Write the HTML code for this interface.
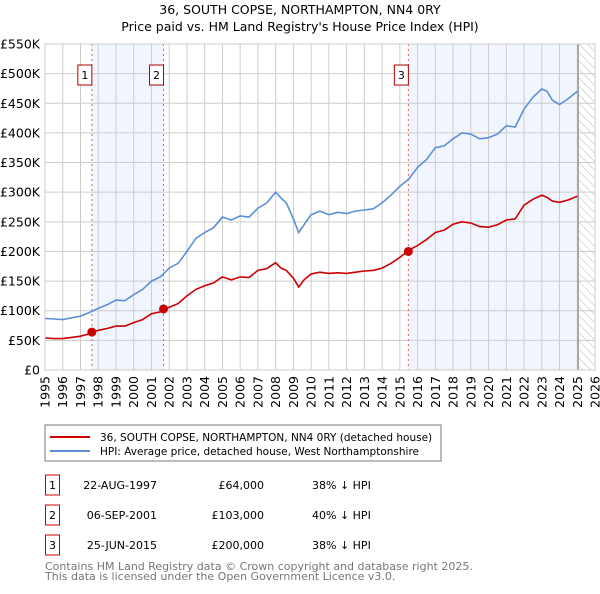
<!DOCTYPE html>
<html><head><meta charset="utf-8"><style>
body{margin:0;background:#fff;font-family:"DejaVu Sans","Liberation Sans",sans-serif;}
</style></head><body>
<svg id="c" width="600" height="590" xmlns="http://www.w3.org/2000/svg" font-family="DejaVu Sans, Liberation Sans, sans-serif">
<text x="300" y="14" text-anchor="middle" font-size="12.5">36, SOUTH COPSE, NORTHAMPTON, NN4 0RY</text>
<text x="300" y="31" text-anchor="middle" font-size="12.5">Price paid vs. HM Land Registry's House Price Index (HPI)</text>
<defs><pattern id="hatch" width="6" height="6" patternUnits="userSpaceOnUse" patternTransform="rotate(-45)"><line x1="0" y1="0" x2="0" y2="6" stroke="#bbb" stroke-width="1"/></pattern></defs>
<g id="plot"></g>
<rect x="45" y="425" width="396" height="36" fill="#fff" stroke="#777"/>
<line x1="50" y1="437" x2="90" y2="437" stroke="#cc0000" stroke-width="2"/>
<text x="100" y="441" font-size="10.5">36, SOUTH COPSE, NORTHAMPTON, NN4 0RY (detached house)</text>
<line x1="50" y1="451" x2="90" y2="451" stroke="#5b8fd6" stroke-width="2"/>
<text x="100" y="455" font-size="10.5">HPI: Average price, detached house, West Northamptonshire</text>
<g font-size="11" id="tbl"></g>
<text x="45" y="570" font-size="11" fill="#777">Contains HM Land Registry data © Crown copyright and database right 2025.</text>
<text x="45" y="580" font-size="11" fill="#777">This data is licensed under the Open Government Licence v3.0.</text>
</svg>
<script>
const years=[1995,1995.5,1996,1996.5,1997,1997.5,1998,1998.5,1999,1999.5,2000,2000.5,2001,2001.5,2002,2002.5,2003,2003.5,2004,2004.5,2005,2005.5,2006,2006.5,2007,2007.5,2008,2008.3,2008.6,2009,2009.3,2009.6,2010,2010.5,2011,2011.5,2012,2012.5,2013,2013.5,2014,2014.5,2015,2015.5,2016,2016.5,2017,2017.5,2018,2018.5,2019,2019.5,2020,2020.5,2021,2021.5,2022,2022.5,2023,2023.3,2023.6,2024,2024.5,2025];
const hpi=[87,86,85,88,91,97,104,110,118,117,127,136,150,157,172,180,200,222,232,240,258,253,260,258,273,282,300,290,282,255,232,245,262,268,262,266,264,268,270,272,282,295,310,322,342,355,375,378,390,400,398,390,392,398,412,410,440,460,474,470,455,448,458,470];
const price=[54,53,53,55,57,61,67,70,74,74,80,85,95,98,106,112,125,136,142,147,157,152,157,156,168,171,181,172,168,155,140,152,162,165,163,164,163,165,167,168,172,180,190,202,210,220,232,236,246,250,248,242,241,245,253,255,278,288,295,291,285,283,287,293];
const sales=[[1997.64,64],[2001.68,103],[2015.48,200]];
const saleLabels=["1","2","3"];
const saleDates=["22-AUG-1997","06-SEP-2001","25-JUN-2015"];
const salePrices=["£64,000","£103,000","£200,000"];
const saleDiffs=["38% ↓ HPI","40% ↓ HPI","38% ↓ HPI"];
const yTicks=[0,50,100,150,200,250,300,350,400,450,500,550];
const yTickLabels=["£0","£50K","£100K","£150K","£200K","£250K","£300K","£350K","£400K","£450K","£500K","£550K"];
const xTicks=[1995,1996,1997,1998,1999,2000,2001,2002,2003,2004,2005,2006,2007,2008,2009,2010,2011,2012,2013,2014,2015,2016,2017,2018,2019,2020,2021,2022,2023,2024,2025,2026];
const dataEnd=2025.05;
const X0=45,X1=595,Y0=370,Y1=44;
const xs=v=>X0+(v-1995)/(2026-1995)*(X1-X0);
const ys=v=>Y0-v/550*(Y0-Y1);
const NS="http://www.w3.org/2000/svg";
const plot=document.getElementById('plot');
function mk(t,a,p){const e=document.createElementNS(NS,t);for(const k in a)e.setAttribute(k,a[k]);(p||plot).appendChild(e);return e;}
let e;
e=mk('rect',{x:xs(sales[0][0]),y:Y1,width:xs(sales[1][0])-xs(sales[0][0]),height:Y0-Y1,fill:'#eef3fc',opacity:0.8});


e=mk('rect',{x:xs(sales[2][0]),y:Y1,width:xs(dataEnd)-xs(sales[2][0]),height:Y0-Y1,fill:'#eef3fc',opacity:0.8});


e=mk('rect',{x:xs(dataEnd),y:Y1,width:X1-xs(dataEnd),height:Y0-Y1,fill:'url(#hatch)'});


xTicks.forEach(t=>{
 e=mk('line',{x1:xs(t),x2:xs(t),y1:Y1,y2:Y0,stroke:'#ccc'});
 
 
 e=mk('text',{x:0,y:0,'font-size':12.5,'text-anchor':'end',transform:`translate(${xs(t)+4.5},${Y0+6}) rotate(-90)`});
 e.textContent=t;
 
 
});
yTicks.forEach((t,i)=>{
 e=mk('line',{x1:X0,x2:X1,y1:ys(t),y2:ys(t),stroke:'#ccc'});
 
 
 e=mk('text',{x:40,y:ys(t)+4.5,'font-size':12.5,'text-anchor':'end'});
 e.textContent=yTickLabels[i];
 
 
});
e=mk('line',{x1:xs(dataEnd),x2:xs(dataEnd),y1:Y1,y2:Y0,stroke:'#999','stroke-width':1.5});


sales.forEach((s,i)=>{
 e=mk('line',{x1:xs(s[0]),x2:xs(s[0]),y1:Y1,y2:Y0,stroke:'#e06060','stroke-dasharray':'2,3'});
 
 
 e=mk('rect',{x:xs(s[0])-14,y:65,width:14,height:20,fill:'#fff',stroke:'#b00000'});
 
 
 e=mk('text',{x:xs(s[0])-7,y:79,'font-size':11,'text-anchor':'middle'});
 e.textContent=saleLabels[i];
 
 
});
const path=arr=>arr.map((v,i)=>(i?'L':'M')+xs(years[i]).toFixed(1)+','+ys(v).toFixed(1)).join('');
e=mk('path',{d:path(hpi),fill:'none',stroke:'#5b8fd6','stroke-width':1.6});


e=mk('path',{d:path(price),fill:'none',stroke:'#cc0000','stroke-width':1.6});


sales.forEach(s=>{
 e=mk('circle',{cx:xs(s[0]),cy:ys(s[1]),r:4.5,fill:'#cc0000'});
 
 
});
e=mk('rect',{x:X0,y:Y1,width:X1-X0,height:Y0-Y1,fill:'none',stroke:'#ccc'});


const tbl=document.getElementById('tbl');
saleLabels.forEach((l,i)=>{
 const y=476+i*30;
 e=mk('rect',{x:45.5,y:y-1,width:14,height:20,fill:'#fff',stroke:'#cc0000'},tbl);
 
 
 e=mk('text',{x:52.5,y:y+13,'text-anchor':'middle'},tbl);e.textContent=l;
 
 
 e=mk('text',{x:157,y:y+13,'text-anchor':'end'},tbl);e.textContent=saleDates[i];
 
 
 e=mk('text',{x:264,y:y+13,'text-anchor':'end'},tbl);e.textContent=salePrices[i];
 
 
 e=mk('text',{x:312,y:y+13},tbl);e.textContent=saleDiffs[i];
 
 
});
</script>
</body></html>
